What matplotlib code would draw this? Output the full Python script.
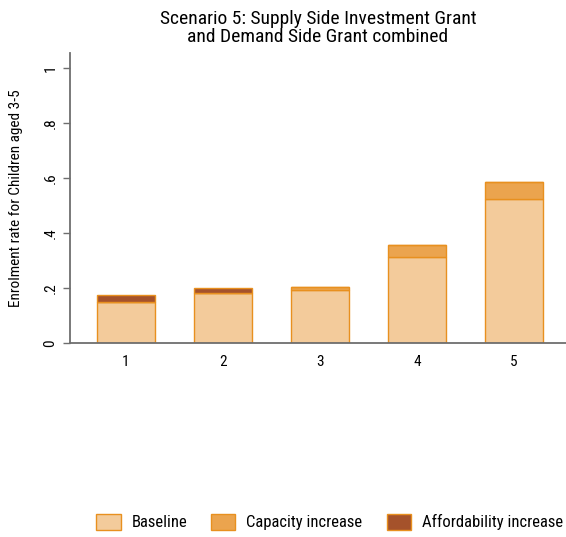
import numpy as np
import matplotlib.pyplot as plt
from matplotlib.patches import Patch

# data
groups = [1, 2, 3, 4, 5]
baseline = [0.150, 0.183, 0.194, 0.314, 0.524]
capacity = [0.000, 0.000, 0.008, 0.041, 0.060]
afford = [0.025, 0.018, 0.000, 0.000, 0.000]
yticks = [0, 0.2, 0.4, 0.6, 0.8, 1]
ytick_labels = ['0', '.2', '.4', '.6', '.8', '1']
legend_labels = ['Baseline', 'Capacity increase', 'Affordability increase']

colors = ['#F3CB9B', '#EBA44E', '#A5522B']
edge = '#E8901F'

plt.rcParams['font.family'] = ['Roboto Condensed', 'Archivo Narrow', 'DejaVu Sans']

fig = plt.figure(figsize=(5.66, 5.37), dpi=100)
ax = fig.add_axes([70 / 566, 1 - 343 / 537, 496 / 566, 290 / 537])

x = np.array(groups)
b = np.array(baseline)
c = np.array(capacity)
a = np.array(afford)
w = 0.6
ax.bar(x, b, w, color=colors[0], edgecolor=edge, linewidth=1)
ax.bar(x, c, w, bottom=b, color=colors[1], edgecolor=edge, linewidth=1)
ax.bar(x, a, w, bottom=b + c, color=colors[2], edgecolor=edge, linewidth=1)

ax.set_xlim(0.426, 5.535)
ax.set_ylim(0, 1.055)
ax.set_xticks(groups)
ax.set_yticks(yticks)
ax.set_yticklabels(ytick_labels, rotation=90, va='center')
ax.tick_params(axis='y', length=5, width=1, color='#6e6e6e', labelsize=11, pad=4)
ax.tick_params(axis='x', length=0, labelsize=11, pad=9)

for s in ['top', 'right']:
    ax.spines[s].set_visible(False)
for s in ['left', 'bottom']:
    ax.spines[s].set_color('#6e6e6e')
    ax.spines[s].set_linewidth(1.3)

ax.set_ylabel('Enrolment rate for Children aged 3-5', fontsize=11, labelpad=15)
ax.set_title('Scenario 5: Supply Side Investment Grant\nand Demand Side Grant combined',
             fontsize=14, linespacing=1.0, pad=8)

handles = [Patch(facecolor=colors[i], edgecolor=edge, label=legend_labels[i]) for i in range(3)]
fig.legend(handles=handles, loc='center right', bbox_to_anchor=(1.0, 1 - 522 / 537), ncol=3,
           frameon=False, fontsize=12, handlelength=1.45, handleheight=1.1,
           columnspacing=1.45, handletextpad=0.65, borderaxespad=0.0, borderpad=0.2)

fig.savefig('out.png', dpi=100)
